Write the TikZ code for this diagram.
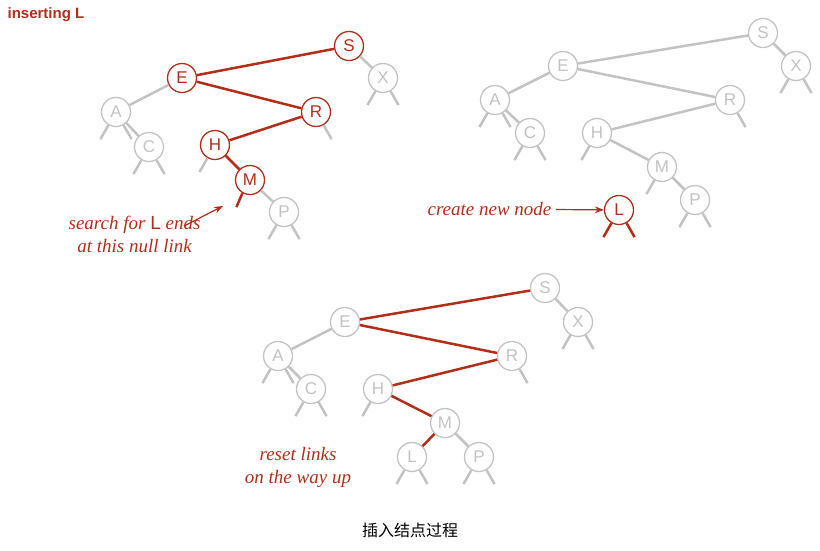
\documentclass[tikz,border=0pt]{standalone}
\usepackage{fontspec}
\newfontfamily\cjk{Noto Sans CJK SC}
\setsansfont{Liberation Sans}
\newfontfamily\notefont{Liberation Serif}
\usetikzlibrary{arrows.meta}
\definecolor{bstred}{RGB}{180,45,25}
\definecolor{bstgray}{RGB}{195,195,195}
\tikzset{every picture/.style={line width=2.5pt}}
\tikzset{
  gnode/.style={circle,draw=bstgray,fill=white,line width=1.3pt,minimum size=29pt,inner sep=0pt,text=bstgray,font=\sffamily\fontsize{17}{20}\selectfont},
  rnode/.style={gnode,draw=bstred,text=bstred},
  glink/.style={draw=bstgray},
  rlink/.style={draw=bstred},
  note/.style={text=bstred,font=\notefont\itshape\fontsize{19}{23}\selectfont,align=center}
}
\newcommand{\nulls}[2]{% node, style
  \draw[#2] (#1.-120) -- ++(-8,14) (#1.-60) -- ++(8,14);}
\newcommand{\nullleft}[2]{\draw[#2] (#1.-120) -- ++(-8,14);}
\newcommand{\nullright}[2]{\draw[#2] (#1.-60) -- ++(8,14);}
\begin{document}
\begin{tikzpicture}[x=1pt,y=1pt,yscale=-1]
\useasboundingbox (0,0) rectangle (820,550);

% first tree: search
\node[rnode] (aS) at (349,46) {S};
\node[gnode] (aX) at (383,78) {X};
\node[rnode] (aE) at (182,78) {E};
\node[rnode] (aR) at (316,112) {R};
\node[gnode] (aA) at (116,112) {A};
\node[gnode] (aC) at (149,147) {C};
\node[rnode] (aH) at (215,145) {H};
\node[rnode] (aM) at (250,180) {M};
\node[gnode] (aP) at (284,212) {P};
\draw[rlink] (aS) -- (aE) (aE) -- (aR) (aR) -- (aH) (aH) -- (aM);
\draw[glink] (aS) -- (aX) (aE) -- (aA) (aA) -- (aC) (aM) -- (aP);
\nulls{aA}{glink} \nulls{aC}{glink} \nulls{aX}{glink} \nulls{aP}{glink}
\nullleft{aH}{glink} \nullright{aR}{glink}
\draw[rlink] (aM.-120) -- ++(-6,14) coordinate (anull);
\node[note,anchor=east] (asearch) at (205,234) {search for {\upshape\sffamily L} ends\\at this null link};
\draw[rlink,line width=1.2pt,-{Stealth[length=9pt]}] (184,226) -- (223,206);
\node[anchor=west,text=bstred,font=\sffamily\bfseries\fontsize{15}{18}\selectfont] (atitle) at (3,15) {inserting L};

% second tree: new node
\node[gnode] (bS) at (763,33) {S};
\node[gnode] (bX) at (796,66) {X};
\node[gnode] (bE) at (563,66) {E};
\node[gnode] (bR) at (730,100) {R};
\node[gnode] (bA) at (495,100) {A};
\node[gnode] (bC) at (530,133) {C};
\node[gnode] (bH) at (597,133) {H};
\node[gnode] (bM) at (662,167) {M};
\node[gnode] (bP) at (695,200) {P};
\node[rnode] (bL) at (619,210) {L};
\draw[glink] (bS) -- (bE) (bS) -- (bX) (bE) -- (bR) (bE) -- (bA) (bA) -- (bC)
  (bR) -- (bH) (bH) -- (bM) (bM) -- (bP);
\nulls{bA}{glink} \nulls{bC}{glink} \nulls{bX}{glink} \nulls{bP}{glink}
\nullleft{bH}{glink} \nullright{bR}{glink} \nullleft{bM}{glink}
\nulls{bL}{rlink}
\node[note,anchor=east] (bcreate) at (556,209) {create new node};
\draw[rlink,line width=1.2pt,-{Stealth[length=9pt]}] (bcreate) -- (bL);

% third tree: reset links
\node[gnode] (cS) at (545,288) {S};
\node[gnode] (cX) at (578,322) {X};
\node[gnode] (cE) at (345,322) {E};
\node[gnode] (cR) at (512,356) {R};
\node[gnode] (cA) at (278,356) {A};
\node[gnode] (cC) at (311,389) {C};
\node[gnode] (cH) at (378,389) {H};
\node[gnode] (cM) at (445,423) {M};
\node[gnode] (cL) at (412,457) {L};
\node[gnode] (cP) at (479,457) {P};
\draw[rlink] (cS) -- (cE) (cE) -- (cR) (cR) -- (cH) (cH) -- (cM) (cM) -- (cL);
\draw[glink] (cS) -- (cX) (cE) -- (cA) (cA) -- (cC) (cM) -- (cP);
\nulls{cA}{glink} \nulls{cC}{glink} \nulls{cX}{glink} \nulls{cP}{glink}
\nulls{cL}{glink} \nullleft{cH}{glink} \nullright{cR}{glink}
\node[note] (creset) at (298,467) {reset links\\on the way up};

\node[font=\cjk\fontsize{16}{19}\selectfont] (caption) at (410,530) {插入结点过程};
\end{tikzpicture}
\end{document}
